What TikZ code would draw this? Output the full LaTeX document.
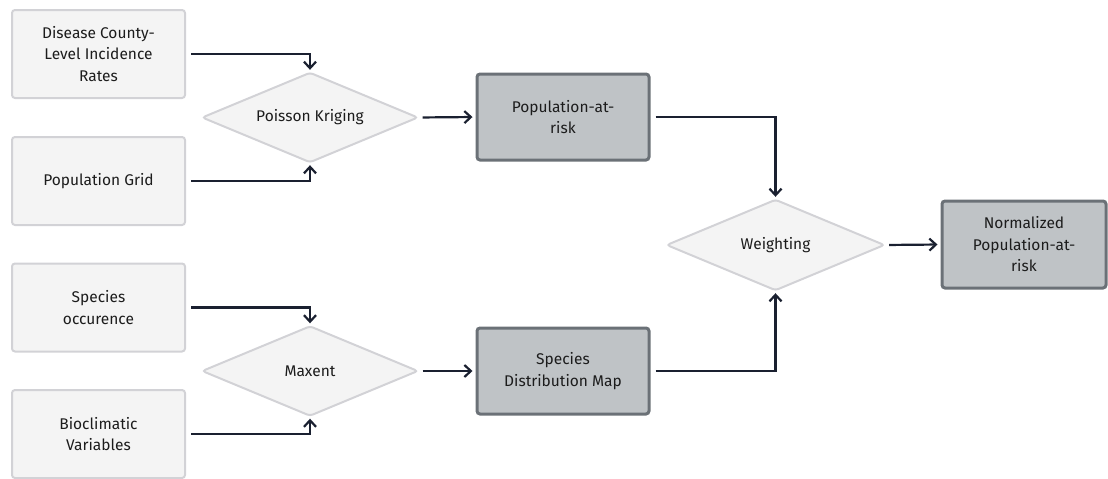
\documentclass[tikz,border=0pt]{standalone}
\usepackage{fontspec}
\setmainfont{Fira Sans}
\usetikzlibrary{arrows.meta,backgrounds}
\definecolor{lightfill}{HTML}{F4F4F4}
\definecolor{lightline}{HTML}{D2D2D6}
\definecolor{darkfill}{HTML}{BFC3C6}
\definecolor{darkline}{HTML}{6B7177}
\definecolor{arrowcol}{HTML}{1A2030}
\definecolor{textcol}{HTML}{1C1C1C}
\tikzset{
  x=1pt,y=-1pt,
  every node/.style={font=\fontsize{15.5}{21.5}\selectfont, text=textcol, align=center},
  inbox/.style={draw=lightline, fill=lightfill, line width=2pt, rounded corners=3pt, minimum width=173pt, minimum height=88pt, inner sep=0pt},
  outbox/.style={draw=darkline, fill=darkfill, line width=3pt, rounded corners=3pt, minimum width=172pt, minimum height=86pt, inner sep=0pt},
  proc/.style={rectangle, minimum width=215pt, minimum height=89pt, inner sep=0pt},
  procline/.style={draw=lightline, fill=lightfill, line width=2pt, rounded corners=3pt},
  conn/.style={draw=arrowcol, line width=2.2pt, -{Straight Barb[length=6.5pt,width=12pt,line width=2.2pt]}, shorten <=5pt, shorten >=3pt},
}
\begin{document}
\begin{tikzpicture}
\useasboundingbox (0,0) rectangle (1108,479);
\node[inbox] (dis) at (98.5,54) {Disease County-\\Level Incidence\\Rates};
\node[inbox] (pop) at (98.5,181) {Population Grid};
\node[proc] (pk) at (310,117.5) {Poisson Kriging};
\node[outbox] (par) at (563,117) {Population-at-\\risk};
\node[inbox] (spo) at (98.5,307.5) {Species\\occurence};
\node[inbox] (bio) at (98.5,434) {Bioclimatic\\Variables};
\node[proc] (mx) at (310,371) {Maxent};
\node[outbox] (sdm) at (563,371) {Species\\Distribution Map};
\node[proc, minimum width=217pt, minimum height=90pt] (wt) at (775.5,245) {Weighting};
\node[outbox, minimum width=164pt, minimum height=87pt] (npr) at (1024,244.5) {Normalized\\Population-at-\\risk};
\begin{scope}[on background layer]
\foreach \d in {pk,mx,wt}
  \path[procline] (\d.north) -- (\d.east) -- (\d.south) -- (\d.west) -- cycle;
\end{scope}
\draw[conn] (dis.east) -| (pk.north);
\draw[conn] (pop.east) -| (pk.south);
\draw[conn] (pk.east) -- (par.west);
\draw[conn] (spo.east) -| (mx.north);
\draw[conn] (bio.east) -| (mx.south);
\draw[conn] (mx.east) -- (sdm.west);
\draw[conn] (par.east) -| (wt.north);
\draw[conn] (sdm.east) -| (wt.south);
\draw[conn] (wt.east) -- (npr.west);
\end{tikzpicture}
\end{document}
